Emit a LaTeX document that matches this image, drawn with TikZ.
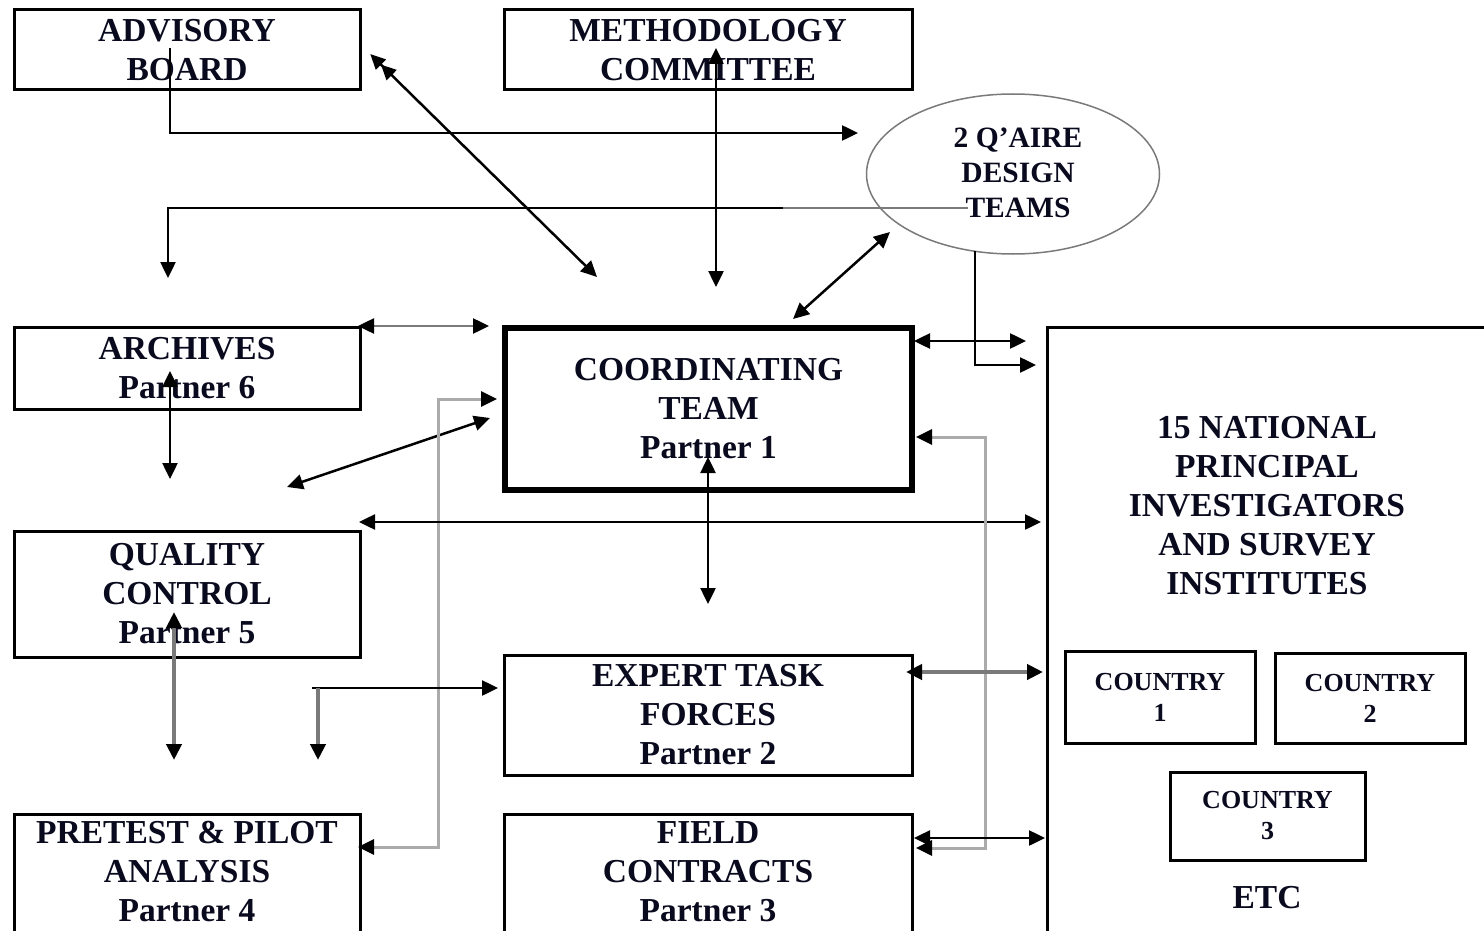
\documentclass[tikz,border=0pt]{standalone}
\usepackage{fontspec}
\setmainfont{Liberation Serif}
\usetikzlibrary{arrows.meta,shapes.geometric}
\definecolor{cgray}{HTML}{7A7A7A}
\definecolor{lgray}{HTML}{ABABAB}
\definecolor{inkc}{HTML}{0A0A1E}
\begin{document}
\begin{tikzpicture}[x=1pt,y=-1pt,
  >={Triangle[length=16pt,width=15pt,color=black]},
  lbl/.style={align=center, font=\fontsize{33.5}{39}\selectfont\bfseries, text=inkc, inner sep=0pt},
  box/.style={lbl, draw, line width=3pt},
  cbox/.style={draw, line width=3pt, align=center, font=\fontsize{26}{31}\selectfont\bfseries, text=inkc, inner sep=0pt},
  conn/.style={line width=2.5pt},
  gconn/.style={draw=cgray, line width=4pt},
  lconn/.style={draw=lgray, line width=3pt},
]
\useasboundingbox (0,0) rectangle (1484,931);
\fill[white] (0,0) rectangle (1484,931);

% ---- boxes ----
\node[box, minimum width=346pt, minimum height=80pt] (adv) at (187,50) {ADVISORY\\BOARD};
\node[box, minimum width=408pt, minimum height=80pt] (meth) at (708,50) {METHODOLOGY\\COMMITTEE};
\node[ellipse, draw=cgray, line width=1.5pt, minimum width=293pt, minimum height=160pt] (qd) at (1013,174) {};
\node[align=center, font=\fontsize{29.5}{35}\selectfont\bfseries, text=inkc, inner sep=0pt] (qdt) at (1018,173) {2 Q’AIRE\\DESIGN\\TEAMS};
\node[box, minimum width=346pt, minimum height=82pt] (arch) at (187,368) {ARCHIVES\\Partner 6};
\node[box, line width=5.5pt, minimum width=407pt, minimum height=162pt] (coord) at (708.5,409) {COORDINATING\\TEAM\\Partner 1};
\node[box, minimum width=346pt, minimum height=126pt] (qual) at (187,594) {QUALITY\\CONTROL\\Partner 5};
\node[box, minimum width=408pt, minimum height=120pt] (exp) at (708,715) {EXPERT TASK\\FORCES\\Partner 2};
\node[lbl] (pre) at (187,872) {PRETEST \& PILOT\\ANALYSIS\\Partner 4};
\draw[line width=3pt] (14,945) -- (14,814) -- (360,814) -- (360,945);
\node[lbl] (field) at (708,872) {FIELD\\CONTRACTS\\Partner 3};
\draw[line width=3pt] (504,945) -- (504,814) -- (912,814) -- (912,945);
\node[lbl] (nat) at (1267,506) {15 NATIONAL\\PRINCIPAL\\INVESTIGATORS\\AND SURVEY\\INSTITUTES};
\draw[line width=3pt] (1047,945) -- (1047,327) -- (1500,327);
\node[cbox, minimum width=190pt, minimum height=92pt] (c1) at (1160,697) {COUNTRY\\1};
\node[cbox, minimum width=190pt, minimum height=90pt] (c2) at (1370,698) {COUNTRY\\2};
\node[cbox, minimum width=195pt, minimum height=88pt] (c3) at (1267.5,816) {COUNTRY\\3};
\node[lbl] (etc) at (1267,898) {ETC};

% ---- connector end points ----
\coordinate (a1) at (170,48);
\coordinate (a2) at (858,133);
\coordinate (b1) at (168,278);
\coordinate (b2) at (783,208);
\coordinate (b3) at (968,208);
\coordinate (d1) at (361,45);
\coordinate (d2) at (597,277);
\coordinate (m1) at (716,48);
\coordinate (m2) at (716,287);
\coordinate (e1) at (890,232);
\coordinate (e2) at (793,319);
\coordinate (f1) at (975,251);
\coordinate (f2) at (1036,365);
\coordinate (g1) at (914,341);
\coordinate (g2) at (1026,341);
\coordinate (h1) at (358,326);
\coordinate (h2) at (489,326);
\coordinate (i1) at (170,371);
\coordinate (i2) at (170,479);
\coordinate (j1) at (287,487);
\coordinate (j2) at (490,418);
\coordinate (k1) at (358,847);
\coordinate (k2) at (438,399);
\coordinate (k3) at (497,399);
\coordinate (l1) at (359,522);
\coordinate (l2) at (1041,522);
\coordinate (n1) at (708,457);
\coordinate (n2) at (708,604);
\coordinate (o1) at (916,437);
\coordinate (o2) at (985,848);
\coordinate (o3) at (916,848);
\coordinate (p1) at (906,672);
\coordinate (p2) at (1043,672);
\coordinate (q1) at (914,838);
\coordinate (q2) at (1045,838);
\coordinate (r1) at (174,612);
\coordinate (r2) at (174,760);
\coordinate (s1) at (312,688);
\coordinate (s2) at (498,688);
\coordinate (s3) at (318,688);
\coordinate (s4) at (318,760);

% ---- connectors ----
\draw[conn,->] (a1) |- (a2);
\draw[conn,<-] (b1) |- (b2);
\draw[conn,draw=cgray] (b2) -- (b3);
\draw[conn,{Triangle[length=15pt,width=14pt,sep=13pt,color=black]Triangle[length=15pt,width=14pt,color=black]}-{Triangle[length=16pt,width=15pt,color=black]}] (d1) -- (d2);
\draw[conn,<->] (m1) -- (m2);
\draw[conn,<->] (e1) -- (e2);
\draw[conn,->] (f1) |- (f2);
\draw[conn,<->] (g1) -- (g2);
\draw[conn,draw=cgray,<->] (h1) -- (h2);
\draw[conn,<->] (i1) -- (i2);
\draw[conn,<->] (j1) -- (j2);
\draw[lconn,<->] (k1) -| (k2) -- (k3);
\draw[conn,<->] (l1) -- (l2);
\draw[conn,<->] (n1) -- (n2);
\draw[lconn,<->] (o1) -| (o2) -- (o3);
\draw[gconn,<->] (p1) -- (p2);
\draw[conn,<->] (q1) -- (q2);
\draw[gconn,<->] (r1) -- (r2);
\draw[conn,->] (s1) -- (s2);
\draw[gconn,->] (s3) -- (s4);
\end{tikzpicture}
\end{document}
